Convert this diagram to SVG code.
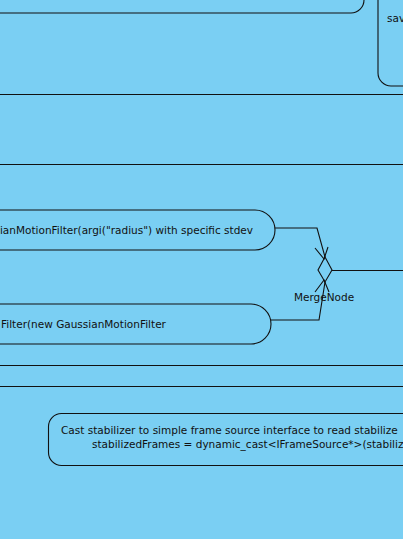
<svg xmlns="http://www.w3.org/2000/svg" width="403" height="539" viewBox="0 0 403 539">
<style>
.bg{fill:#7acff3}
.node{fill:#7acff3;stroke:#111;stroke-width:1.1}
.ln{fill:none;stroke:#111;stroke-width:1.1}
.t{font-family:"DejaVu Sans",sans-serif;font-size:10.5px;fill:#111}
</style>
<rect class="bg" x="0" y="0" width="403" height="539"/>
<g id="action-top">
<rect class="node" x="-20" y="-40" width="384" height="53" rx="13" ry="13"/>
</g>
<g id="action-right">
<rect class="node" x="378" y="-20" width="60" height="106" rx="13" ry="13"/>
<text class="t" x="387" y="22">sav</text>
</g>
<g id="partitions">
<line class="ln" x1="0" y1="94.5" x2="403" y2="94.5"/>
<line class="ln" x1="0" y1="164.5" x2="403" y2="164.5"/>
<line class="ln" x1="0" y1="365.5" x2="403" y2="365.5"/>
<line class="ln" x1="0" y1="386.5" x2="403" y2="386.5"/>
</g>
<g id="action-radius">
<rect class="node" x="-40" y="210" width="315" height="40" rx="20" ry="20"/>
<text class="t" x="253" y="234" text-anchor="end">ianMotionFilter(argi("radius") with specific stdev</text>
</g>
<g id="action-gaussian">
<rect class="node" x="-40" y="304" width="311" height="40" rx="20" ry="20"/>
<text class="t" x="1" y="328">Filter(new GaussianMotionFilter</text>
</g>
<g id="merge-node">
<polygon class="node" points="325,257 332,270 325,282 318,270"/>
<text class="t" x="324" y="301" text-anchor="middle">MergeNode</text>
</g>
<g id="action-cast">
<rect class="node" x="48.5" y="413.5" width="400" height="52" rx="13" ry="13"/>
<text class="t" x="61" y="434">Cast stabilizer to simple frame source interface to read stabilize</text>
<text class="t" x="92" y="448">stabilizedFrames = dynamic_cast&lt;IFrameSource*&gt;(stabiliz</text>
</g>
<g id="connectors">
<polyline class="ln" points="275,228 317,228 325,257"/>
<polyline class="ln" points="315,248 324,259 328,247"/>
<polyline class="ln" points="271,320 319,320 325,282"/>
<polyline class="ln" points="315,292 324,280 329,292"/>
<line class="ln" x1="332" y1="270.5" x2="403" y2="270.5"/>
</g>
</svg>
